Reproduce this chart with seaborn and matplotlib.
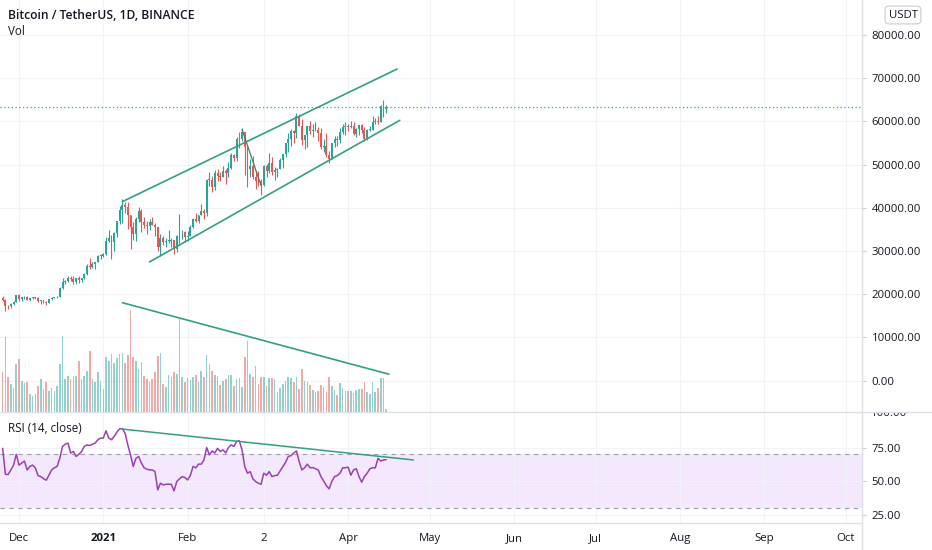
import pandas as pd
import matplotlib
matplotlib.use("Agg")
import matplotlib.pyplot as plt
import matplotlib.dates as mdates
import seaborn as sns

# ---- data: BTCUSDT daily candles (25 Nov 2020 .. 15 Apr 2021) ----
dates = pd.date_range("2020-11-25", "2021-04-15", freq="D")

opens = [19160, 18720, 17150, 17140, 17720, 18180, 19700, 18760, 19220, 19440,
         18700, 19150, 19360, 19170, 18320, 18550, 18250, 18040, 18800, 19170,
         19270, 19440, 21350, 22800, 23110, 23820, 23450, 22720, 23820, 23220,
         23730, 24690, 26440, 26250, 27040, 27350, 28880, 28920, 29330, 32180,
         33000, 32030, 34030, 36820, 39440, 40670, 40240, 38240, 35540, 34010,
         37390, 39150, 36770, 36010, 35820, 36630, 36020, 35470, 30830, 32990,
         32100, 32280, 32370, 32510, 30430, 33400, 34270, 34320, 33110, 33530,
         35510, 37470, 36930, 38290, 39260, 38870, 46450, 46510, 44840, 47970,
         47410, 47190, 48590, 47930, 49150, 52120, 51550, 55910, 55840, 57410,
         54100, 48890, 49680, 47070, 46280, 46100, 45140, 49590, 48440, 50350,
         48370, 48750, 48880, 50970, 52390, 54880, 55850, 57770, 57220, 61190,
         59000, 55630, 56900, 58910, 57650, 58030, 58100, 57350, 54080, 54340,
         52300, 51300, 55070, 55860, 55780, 57630, 58740, 58790, 58740, 58970,
         57060, 58200, 59130, 57990, 56000, 58080, 58100, 59770, 60000, 59860,
         63580, 62960]
highs = [19480, 18920, 17460, 17850, 18350, 19860, 19920, 19340, 19600, 19530,
         19180, 19420, 19390, 19290, 18640, 18560, 18290, 18950, 19410, 19350,
         19570, 21560, 23770, 23280, 24170, 24300, 24100, 23840, 24100, 23780,
         24800, 26870, 28420, 27500, 27400, 28990, 29300, 29600, 33300, 34780,
         33600, 34360, 36940, 40370, 41950, 41380, 41350, 38260, 36630, 37850,
         40100, 39750, 37950, 36850, 37470, 37850, 36420, 35600, 33830, 33460,
         32940, 34880, 32920, 32560, 33780, 38530, 34930, 34640, 34720, 35980,
         37660, 38710, 38310, 40950, 39700, 46750, 48200, 47310, 48630, 48990,
         48150, 49710, 49000, 50620, 52620, 52530, 56370, 57490, 58350, 57530,
         54180, 51370, 52040, 48420, 48390, 46640, 49790, 50200, 52640, 51770,
         49450, 49200, 51450, 52400, 54900, 57390, 58150, 58060, 61840, 61680,
         60630, 56940, 58980, 60100, 59470, 59880, 58640, 58430, 55830, 57200,
         53240, 55070, 56640, 56570, 58400, 59370, 59800, 59490, 60040, 59800,
         58500, 59250, 59480, 58650, 58160, 58870, 61200, 60700, 61320, 63800,
         64850, 63800]
lows = [18500, 16200, 16440, 16890, 17520, 18180, 18320, 18330, 18870, 18570,
        18500, 18860, 18900, 18200, 17650, 17910, 17570, 18020, 18730, 19000,
        19050, 19300, 21230, 22350, 22750, 23060, 22350, 22350, 22600, 22700,
        23440, 24500, 25850, 26100, 25880, 27320, 28200, 28620, 28950, 32010,
        28130, 29900, 33290, 36300, 36500, 38720, 35110, 30420, 32530, 32380,
        36700, 34410, 35360, 33850, 34800, 35900, 33400, 30070, 28850, 31390,
        30900, 31910, 30840, 29240, 29840, 31920, 32860, 32000, 32300, 33420,
        35360, 36620, 36570, 38220, 37350, 37990, 45020, 43730, 43990, 46130,
        46200, 47030, 45570, 47000, 48950, 50900, 50710, 53860, 55480, 47620,
        44890, 47000, 46670, 44440, 45000, 43000, 45000, 47050, 48100, 47500,
        46300, 47070, 48880, 49270, 51850, 53000, 54270, 55000, 56080, 58970,
        54600, 53650, 54120, 57020, 56270, 57820, 55450, 53650, 53000, 51700,
        50430, 51300, 53960, 54240, 54900, 57000, 56770, 57650, 58430, 56860,
        56480, 56780, 57350, 55470, 55700, 57700, 57880, 59270, 59350, 59790,
        61000, 62020]
closes = [18720, 17150, 17140, 17720, 18180, 19700, 18760, 19220, 19440, 18700,
          19150, 19360, 19170, 18320, 18550, 18250, 18040, 18800, 19170, 19270,
          19440, 21350, 22800, 23110, 23820, 23450, 22720, 23820, 23220, 23730,
          24690, 26440, 26250, 27040, 27350, 28880, 28920, 29330, 32180, 33000,
          32030, 34030, 36820, 39440, 40670, 40240, 38240, 35540, 34010, 37390,
          39150, 36770, 36010, 35820, 36630, 36020, 35470, 30830, 32990, 32100,
          32280, 32370, 32510, 30430, 33400, 34270, 34320, 33110, 33530, 35510,
          37470, 36930, 38290, 39260, 38870, 46450, 46510, 44840, 47970, 47410,
          47190, 48590, 47930, 49150, 52120, 51550, 55910, 55840, 57410, 54100,
          48890, 49680, 47070, 46280, 46100, 45140, 49590, 48440, 50350, 48370,
          48750, 48880, 50970, 52390, 54880, 55850, 57770, 57220, 61190, 59000,
          55630, 56900, 58910, 57650, 58030, 58100, 57350, 54080, 54340, 52300,
          51300, 55070, 55860, 55780, 57630, 58740, 58790, 58740, 58970, 57060,
          58200, 59130, 57990, 56000, 58080, 58100, 59770, 60000, 59860, 63580,
          62960, 63400]

# volume, thousands of BTC
volumes = [79, 150, 70, 55, 47, 95, 105, 62, 57, 59,
           35, 32, 35, 52, 65, 45, 60, 42, 47, 41,
           52, 95, 152, 65, 72, 65, 72, 72, 101, 65,
           72, 82, 122, 65, 59, 80, 62, 45, 109, 101,
           115, 97, 107, 115, 117, 98, 113, 203, 110, 102,
           85, 99, 72, 65, 59, 65, 79, 112, 117, 55,
           49, 74, 70, 80, 75, 185, 69, 59, 67, 63,
           69, 74, 59, 82, 70, 114, 95, 82, 74, 72,
           54, 62, 65, 74, 74, 52, 65, 67, 50, 110,
           141, 75, 70, 92, 55, 70, 70, 52, 67, 67,
           65, 39, 47, 55, 61, 70, 67, 59, 70, 45,
           85, 62, 60, 54, 43, 39, 41, 54, 50, 39,
           69, 52, 43, 34, 57, 47, 42, 41, 41, 37,
           43, 45, 45, 59, 39, 35, 59, 39, 47, 67,
           67, 5]

# RSI(14, close) as drawn in the lower pane
rsi = [74.4, 55.2, 55.0, 58.4, 62.0, 70.0, 62.0, 63.5, 65.0, 58.4,
       61.0, 62.0, 60.0, 54.2, 53.5, 52.0, 50.8, 54.5, 58.4, 60.0,
       61.0, 67.0, 75.8, 77.5, 78.3, 71.0, 72.0, 68.4, 70.0, 72.0,
       75.8, 77.0, 76.5, 77.5, 78.3, 80.8, 82.0, 82.0, 87.4, 82.0,
       80.8, 83.3, 86.4, 88.9, 88.9, 85.7, 77.0, 69.6, 61.0, 67.0,
       68.4, 63.5, 60.0, 59.0, 58.4, 58.4, 57.2, 43.6, 48.6, 47.3,
       47.8, 47.8, 47.8, 42.9, 49.8, 51.8, 53.5, 52.8, 51.0, 54.5,
       61.0, 60.0, 62.7, 62.7, 65.8, 75.0, 69.6, 72.5, 71.0, 74.4,
       72.0, 73.3, 71.0, 75.0, 77.0, 75.8, 79.5, 80.0, 73.3, 61.0,
       56.0, 57.2, 51.8, 49.8, 48.6, 47.8, 56.0, 54.5, 57.2, 53.5,
       54.2, 54.5, 57.7, 61.0, 64.0, 68.4, 69.0, 71.0, 72.5, 64.6,
       58.4, 60.0, 62.7, 60.0, 60.2, 59.3, 58.4, 53.5, 50.3, 46.8,
       44.4, 49.8, 53.5, 54.2, 56.0, 60.0, 60.0, 60.5, 54.5, 58.4,
       59.3, 53.5, 49.3, 53.5, 56.0, 59.3, 60.0, 60.0, 67.0, 65.0,
       65.8, 66.0]

# hand-drawn trend lines (date, value)
upper_channel = (["2021-01-08", "2021-04-19"], [41400, 72100])
lower_channel = (["2021-01-18", "2021-04-20"], [27450, 60230])
drop_line = (["2021-02-21", "2021-02-28"], [58140, 45100])
volume_line = (["2021-01-08", "2021-04-16"], [218, 75])
rsi_line = (["2021-01-08", "2021-04-25"], [88.7, 65.8])

month_ticks = pd.date_range("2020-12-01", "2021-10-01", freq="MS")
month_labels = ["Dec", "2021", "Feb", "2", "Apr", "May", "Jun", "Jul", "Aug", "Sep", "Oct"]
price_ticks = [0, 10000, 20000, 30000, 40000, 50000, 60000, 70000, 80000]
rsi_ticks = [25, 50, 75]

# ---- styling ----
sns.set_theme(style="white")
plt.rcParams["font.family"] = ["Open Sans", "DejaVu Sans"]

UP, DOWN = "#26a69a", "#ef5350"
TEXT = "#131722"
GRID = "#f0f3fa"
BORDER = "#dcdfe6"
TREND = "#34a080"

W, H = 932, 550
fig = plt.figure(figsize=(W / 100, H / 100), dpi=100)

x = mdates.date2num(dates)
colors = [UP if c >= o else DOWN for o, c in zip(opens, closes)]

main_rect = [0, (H - 411.7) / H, 862 / W, 411.7 / H]
ax = fig.add_axes(main_rect)
ax_vol = fig.add_axes(main_rect, sharex=ax)
ax_vol.patch.set_alpha(0)
ax_rsi = fig.add_axes([0, (H - 522.7) / H, 862 / W, 111 / H], sharex=ax)

# candles
ax.vlines(x, lows, highs, colors=colors, lw=0.8, zorder=3)
body_bottom = [min(o, c) for o, c in zip(opens, closes)]
body_height = [max(abs(c - o), 150) for o, c in zip(opens, closes)]
ax.bar(x, body_height, bottom=body_bottom, width=0.7, color=colors, lw=0, zorder=4)
ax.axhline(closes[-1], color=UP, ls=(0, (1, 2)), lw=0.9, zorder=2)

for (d, v), col, lw in [(upper_channel, TREND, 1.2), (lower_channel, TREND, 1.2),
                        (drop_line, "#4b7a6f", 0.9)]:
    ax.plot(mdates.date2num(pd.to_datetime(d)), v, color=col, lw=lw, zorder=5)

ax.set_ylim(-7222, 88079)
ax.set_yticks(price_ticks)
ax.set_yticklabels([f"{p:.2f}" for p in price_ticks])
ax.yaxis.tick_right()
ax.grid(True, color=GRID, lw=0.8)
ax.tick_params(axis="x", bottom=False, labelbottom=False)
ax.tick_params(axis="y", right=True, length=3, width=0.8, color="#c8cbd3", pad=4,
               labelsize=8.2, labelcolor=TEXT)
for s in ax.spines.values():
    s.set_visible(False)

# volume overlay
ax_vol.bar(x, volumes, width=0.6, color=colors, alpha=0.5, lw=0)
ax_vol.plot(mdates.date2num(pd.to_datetime(volume_line[0])), volume_line[1], color=TREND, lw=1.2)
ax_vol.set_ylim(0, 823.4)
ax_vol.axis("off")

# RSI pane
ax_rsi.axhspan(30, 70, color="#f3e8fd", lw=0, zorder=0)
ax_rsi.axhline(70, color="#9a9da6", ls=(0, (4, 4)), lw=0.8)
ax_rsi.axhline(30, color="#9a9da6", ls=(0, (4, 4)), lw=0.8)
sns.lineplot(x=x, y=rsi, ax=ax_rsi, color="#9c3fb5", linewidth=1.1, estimator=None, zorder=4)
ax_rsi.plot(mdates.date2num(pd.to_datetime(rsi_line[0])), rsi_line[1], color=TREND, lw=1.1, zorder=5)
ax_rsi.set_ylim(19.33, 101.56)
ax_rsi.set_yticks(rsi_ticks)
ax_rsi.set_yticklabels([f"{v:.2f}" for v in rsi_ticks])
ax_rsi.yaxis.tick_right()
ax_rsi.grid(True, color=GRID, lw=0.8)
ax_rsi.tick_params(axis="y", right=True, length=3, width=0.8, color="#c8cbd3", pad=4,
                   labelsize=8.2, labelcolor=TEXT)
for s in ax_rsi.spines.values():
    s.set_visible(False)

dec1 = mdates.date2num(pd.Timestamp("2020-12-01"))
ax_rsi.set_xlim(dec1 - 6.985, dec1 + 309.93)
ax_rsi.set_xticks(mdates.date2num(month_ticks))
ax_rsi.set_xticklabels(month_labels)
ax_rsi.tick_params(axis="x", bottom=False, length=0, pad=7.5, labelsize=8.2, labelcolor=TEXT)
ax_rsi.get_xticklabels()[1].set_fontweight("bold")
ax_rsi.set_xlabel("")
ax_rsi.set_ylabel("")

# "100.00" label, clipped by the pane border like in the app
lab_ax = fig.add_axes([862 / W, (H - 522.7) / H, 70 / W, 111 / H])
lab_ax.set_xlim(0, 70)
lab_ax.set_ylim(19.33, 101.56)
lab_ax.axis("off")
lab_ax.text(9.2, 100, "100.00", va="center", ha="left", fontsize=8.2, color=TEXT, clip_on=True)

# pane borders
fig.add_artist(plt.Line2D([862 / W, 862 / W], [0, 1], transform=fig.transFigure, color=BORDER, lw=1))
fig.add_artist(plt.Line2D([0, 1], [1 - 411.7 / H] * 2, transform=fig.transFigure, color=BORDER, lw=1))
fig.add_artist(plt.Line2D([0, 862 / W], [1 - 522.7 / H] * 2, transform=fig.transFigure, color=BORDER, lw=1))

# legends / labels
fig.text(8 / W, 1 - 15.5 / H, "Bitcoin / TetherUS, 1D, BINANCE", fontsize=8.7, fontweight="semibold",
         color=TEXT, va="center", ha="left")
fig.text(8 / W, 1 - 31.5 / H, "Vol", fontsize=8.4, color=TEXT, va="center", ha="left")
fig.text(8 / W, 1 - 429 / H, "RSI (14, close)", fontsize=8.4, color=TEXT, va="center", ha="left")
fig.text(903 / W, 1 - 15 / H, "USDT", fontsize=8.2, color=TEXT, va="center", ha="center",
         bbox=dict(boxstyle="round,pad=0.3,rounding_size=0.35", fc="white", ec="#c8cbd3", lw=0.8))

fig.savefig("out.png", dpi=100)
